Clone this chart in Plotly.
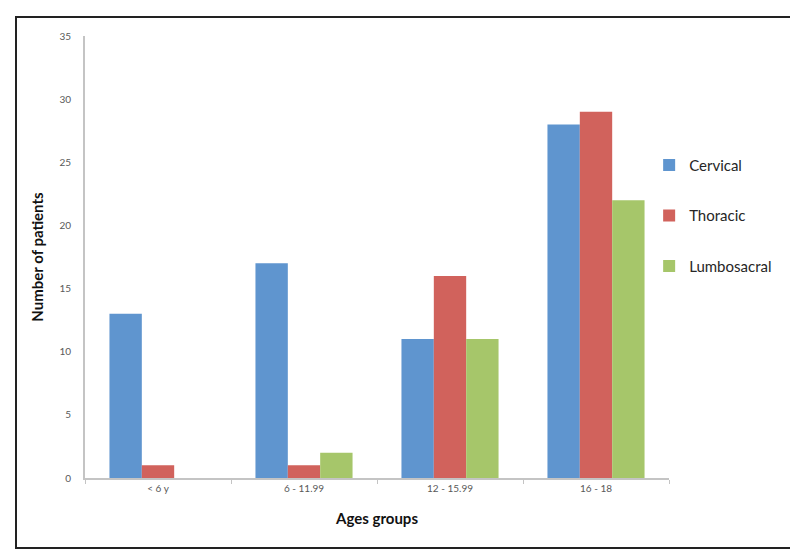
import plotly.graph_objects as go

# data
age_groups = ['< 6 y', '6 - 11.99', '12 - 15.99', '16 - 18']
cervical = [13, 17, 11, 28]
thoracic = [1, 1, 16, 29]
lumbosacral = [0, 2, 11, 22]

# colours
blu = '#5F95CF'
red = '#D1625C'
grn = '#A6C66A'

fnt = 'Lato, Open Sans, sans-serif'

fig = go.Figure()
fig.add_trace(go.Bar(x=age_groups, y=cervical, name='Cervical', marker=dict(color=blu, line=dict(width=0)), legendgroup='a'))
fig.add_trace(go.Bar(x=age_groups, y=thoracic, name='Thoracic', marker=dict(color=red, line=dict(width=0)), legendgroup='b'))
fig.add_trace(go.Bar(x=age_groups, y=lumbosacral, name='Lumbosacral', marker=dict(color=grn, line=dict(width=0)), legendgroup='c'))

fig.update_layout(
    width=798, height=549,
    margin=dict(l=77, r=137, t=28, b=79),
    plot_bgcolor='white', paper_bgcolor='white',
    barmode='group', bargap=0.335, bargroupgap=0,
    font=dict(family=fnt, color='#404040'),
    legend=dict(x=0.966, y=0.745, xanchor='left', yanchor='top',
                traceorder='grouped', tracegroupgap=28, itemwidth=30,
                font=dict(size=15, color='#262626')),
    showlegend=True,
)
fig.update_xaxes(showline=True, linecolor='#C4C4C4', linewidth=2,
                 ticks='outside', tickson='boundaries', ticklen=4, tickcolor='#C4C4C4',
                 tickfont=dict(size=10, color='#595959'),
                 title=dict(text='<b>Ages groups</b>', font=dict(size=15, color='#111111'), standoff=20),
                 showgrid=False)
fig.update_yaxes(range=[0, 35], dtick=5, showline=True, linecolor='#C4C4C4', linewidth=2,
                 ticks='', ticklabelstandoff=10,
                 tickfont=dict(size=10, color='#595959'),
                 title=dict(text='<b>Number of patients</b>', font=dict(size=15, color='#111111'), standoff=12),
                 showgrid=False, zeroline=False)

# outer frame round the whole chart
fig.add_shape(type='rect', xref='paper', yref='paper',
              x0=(8 - 77) / 584, x1=(790 - 77) / 584,
              y0=(470 - 540) / 442, y1=(470 - 9) / 442,
              line=dict(color='#222222', width=2), fillcolor='rgba(0,0,0,0)', layer='below')

fig.write_html("out.html")
